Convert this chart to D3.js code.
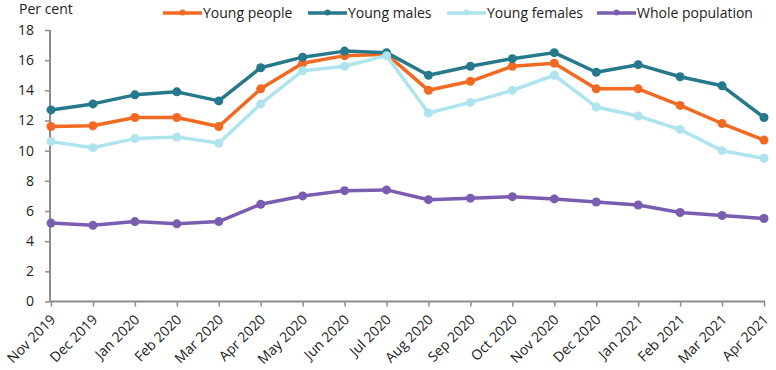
<!DOCTYPE html>
<html><head><meta charset="utf-8">
<script src="https://cdn.jsdelivr.net/npm/d3@7"></script>
<style>body{margin:0;background:#fff;}svg{display:block;font-family:"Open Sans",sans-serif;}</style>
</head><body><svg id="c" width="776" height="370"></svg>
<script>
const categories = ["Nov 2019","Dec 2019","Jan 2020","Feb 2020","Mar 2020","Apr 2020","May 2020","Jun 2020","Jul 2020","Aug 2020","Sep 2020","Oct 2020","Nov 2020","Dec 2020","Jan 2021","Feb 2021","Mar 2021","Apr 2021"];
const youngPeople = [11.6,11.65,12.2,12.2,11.6,14.1,15.8,16.3,16.4,14.0,14.6,15.6,15.8,14.1,14.1,13.0,11.8,10.7];
const youngMales = [12.7,13.1,13.7,13.9,13.3,15.5,16.2,16.6,16.5,15.0,15.6,16.1,16.5,15.2,15.7,14.9,14.3,12.2];
const youngFemales = [10.6,10.2,10.8,10.9,10.5,13.1,15.3,15.6,16.3,12.5,13.2,14.0,15.0,12.9,12.3,11.4,10.0,9.5];
const wholePopulation = [5.2,5.05,5.3,5.15,5.3,6.45,7.0,7.35,7.4,6.75,6.85,6.95,6.8,6.6,6.4,5.9,5.7,5.5];
const yTicks = [0,2,4,6,8,10,12,14,16,18];
const seriesNames = ["Young people","Young males","Young females","Whole population"];
const seriesColors = ["#F26A21","#26788C","#ADE4EE","#7A5DB1"];
const seriesData = [youngPeople, youngMales, youngFemales, wholePopulation];

const svg = d3.select("#c");
const x = d3.scalePoint().domain(categories).range([51, 764]);
const y = d3.scaleLinear().domain([0,18]).range([301.5, 30]);

// y axis
const ya = svg.append("g").attr("transform","translate(50,0)")
  .call(d3.axisLeft(y).tickValues(yTicks).tickSize(5).tickPadding(11));
ya.select(".domain").attr("stroke","#8c8c8c").attr("stroke-width",2).attr("d","M0,302V30");
ya.selectAll(".tick line").attr("stroke","#8c8c8c").attr("stroke-width",1.5);
ya.selectAll("text").attr("font-size",14).attr("fill","#222").attr("font-family","Open Sans");

// x axis
const xa = svg.append("g").attr("transform","translate(0,301.5)")
  .call(d3.axisBottom(x).tickSize(5).tickPadding(4));
xa.select(".domain").attr("stroke","#8c8c8c").attr("stroke-width",2).attr("d","M50,0H765");
xa.selectAll(".tick line").attr("stroke","#8c8c8c").attr("stroke-width",1.5);
xa.selectAll("text").attr("font-size",14).attr("fill","#222").attr("font-family","Open Sans")
  .attr("text-anchor","end").attr("x",0).attr("y",0).attr("dy",0)
  .attr("transform","translate(5,19) rotate(-45)");

// lines
const line = d3.line().x((d,i)=>x(categories[i])).y(d=>y(d));
seriesData.forEach((s,k)=>{
  const g = svg.append("g");
  g.append("path").datum(s).attr("d",line).attr("fill","none")
   .attr("stroke",seriesColors[k]).attr("stroke-width",3.5).attr("stroke-linejoin","round");
  g.selectAll("circle").data(s).join("circle")
   .attr("cx",(d,i)=>x(categories[i])).attr("cy",d=>y(d)).attr("r",4.5)
   .attr("fill",seriesColors[k]);
});

// title
svg.append("text").attr("x",19).attr("y",13.5).attr("font-size",14).attr("fill","#222").text("Per cent");

// legend
const legX = [163, 308, 447, 597];
seriesNames.forEach((n,k)=>{
  const g = svg.append("g").attr("transform",`translate(${legX[k]},13)`);
  g.append("line").attr("x1",0).attr("x2",39).attr("stroke",seriesColors[k]).attr("stroke-width",3.5);
  g.append("circle").attr("cx",19.5).attr("cy",-0.5).attr("r",3).attr("fill",seriesColors[k]);
  g.append("text").attr("x",40).attr("y",4.5).attr("font-size",14).attr("fill","#222").text(n);
});
</script></body></html>
